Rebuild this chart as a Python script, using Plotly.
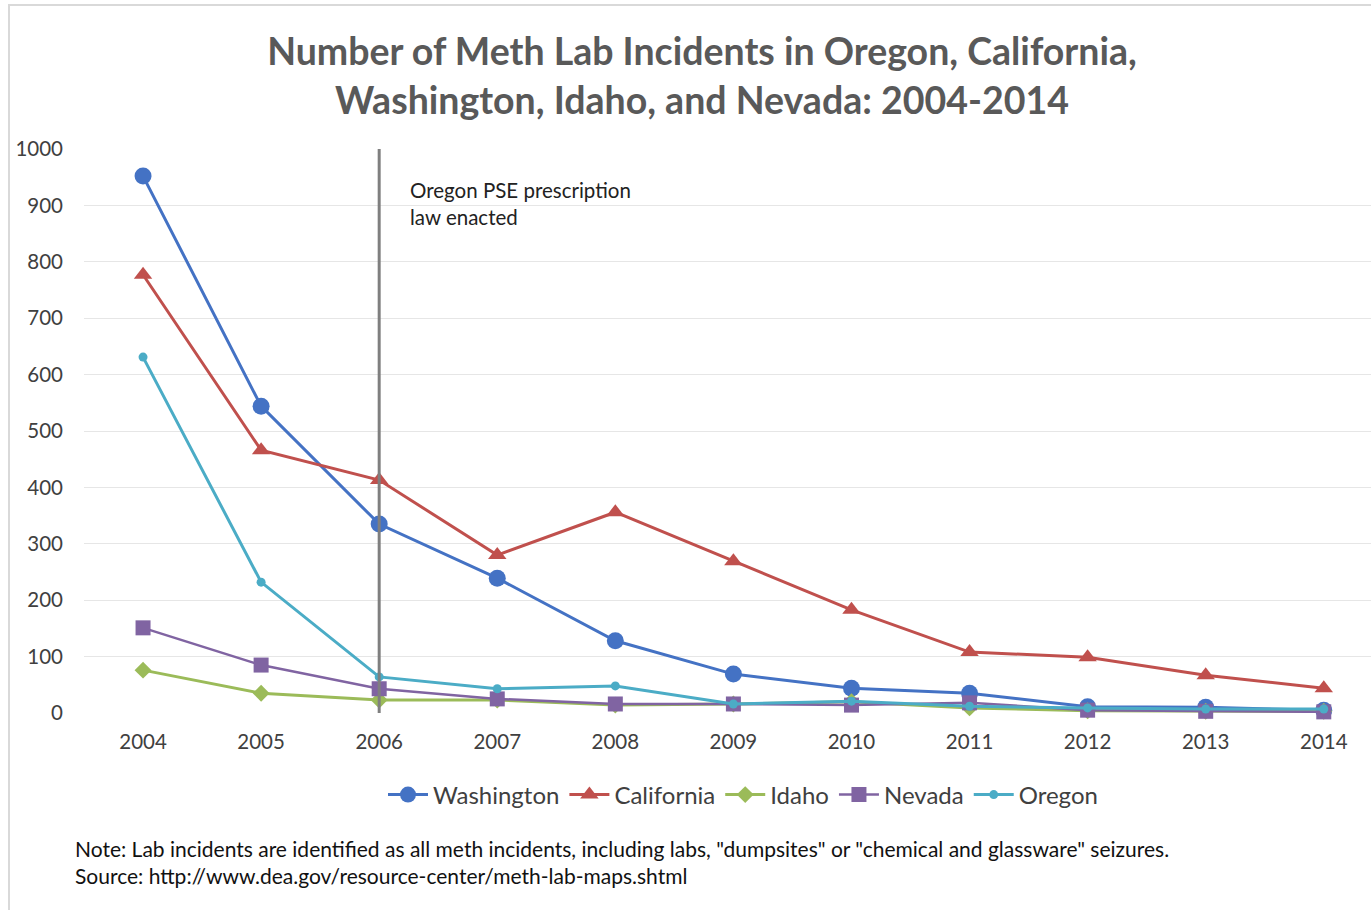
import plotly.graph_objects as go

years = ["2004", "2005", "2006", "2007", "2008", "2009", "2010", "2011", "2012", "2013", "2014"]
washington = [952, 544, 335, 239, 128, 69, 44, 35, 11, 10, 5]
california = [777, 466, 413, 280, 356, 269, 183, 108, 99, 67, 44]
idaho = [76, 35, 23, 23, 14, 16, 20, 9, 4, 3, 3]
nevada = [151, 85, 43, 25, 16, 16, 14, 18, 5, 3, 2]
oregon = [631, 232, 64, 43, 48, 16, 21, 12, 9, 7, 7]

W, H = 1371, 910
L, R, T, B = 84, 0, 149, 197
pw, ph = W - L - R, H - T - B

def px(xp):
    return (xp - L) / pw

def py(yp):
    return (H - B - yp) / ph

FONT = "Lato"
fig = go.Figure()
series = [
    ("Washington", washington, "#4472C4", "circle", 17, 3),
    ("California", california, "#C0504D", "triangle-up", 16, 3),
    ("Idaho", idaho, "#9BBB59", "diamond", 13, 3),
    ("Nevada", nevada, "#8064A2", "square", 15, 2.5),
    ("Oregon", oregon, "#4BACC6", "circle", 9, 3),
]
for name, vals, col, sym, sz, lw in series:
    fig.add_trace(go.Scatter(
        x=years, y=vals, name=name, mode="lines+markers",
        line=dict(color=col, width=lw),
        marker=dict(symbol=sym, size=sz, color=col),
        cliponaxis=False,
    ))

fig.add_shape(type="line", xref="x", yref="y", x0=2, x1=2, y0=-8, y1=1000,
              line=dict(color="#7f7f7f", width=3))
fig.add_annotation(xref="paper", yref="paper", x=px(408), y=py(203), xanchor="left", yanchor="middle",
                   text="Oregon PSE prescription<br>law enacted", showarrow=False, align="left",
                   font=dict(family=FONT, size=20.5, color="#222222"))
fig.add_annotation(xref="paper", yref="paper", x=px(73), y=py(862), xanchor="left", yanchor="middle",
                   text='Note: Lab incidents are identified as all meth incidents, including labs, "dumpsites" or "chemical and glassware" seizures.<br>Source: http://www.dea.gov/resource-center/meth-lab-maps.shtml',
                   showarrow=False, align="left",
                   font=dict(family=FONT, size=21, color="#111111"))
fig.add_shape(type="rect", xref="paper", yref="paper", x0=px(9), x1=px(1380), y0=py(5), y1=py(920),
              line=dict(color="#d9d9d9", width=2), layer="below")

fig.update_layout(
    width=W, height=H,
    margin=dict(l=L, r=R, t=T, b=B, autoexpand=False),
    paper_bgcolor="white", plot_bgcolor="white",
    title=dict(text="<b>Number of Meth Lab Incidents in Oregon, California,<br>Washington, Idaho, and Nevada: 2004-2014</b>",
               x=(262 + 1142) / 2 / W, xanchor="center", y=1 - 65 / H, yanchor="middle",
               font=dict(family=FONT, size=37.5, color="#595959")),
    xaxis=dict(type="category", range=[-0.5, 10.4], showgrid=False, zeroline=False,
               showline=False, ticks="", ticklabelstandoff=14,
               tickfont=dict(family=FONT, size=20.5, color="#404040")),
    yaxis=dict(range=[0, 1000], dtick=100, showgrid=True, gridcolor="#e6e6e6", gridwidth=1,
               zeroline=False, showline=False, ticks="", ticklabelstandoff=20,
               tickfont=dict(family=FONT, size=20.5, color="#404040")),
    legend=dict(orientation="h", x=(743 - L) / pw, xanchor="center",
                y=py(795), yanchor="middle",
                font=dict(family=FONT, size=24, color="#404040"),
                itemwidth=40),
    showlegend=True,
)
fig.write_html("out.html", config={"displayModeBar": False},
               post_script="document.body.style.margin='0';document.body.style.overflow='hidden';")
